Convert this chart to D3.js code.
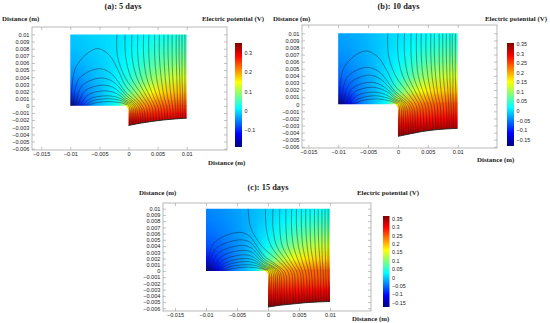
<!DOCTYPE html>
<html><head><meta charset="utf-8">
<script src="https://cdn.jsdelivr.net/npm/d3@7"></script>
<style>
body{margin:0;background:#fff}
svg{display:block}
</style></head><body>
<div id="chart"></div>
<script>
// shared axes
const xTicks = [-0.015,-0.01,-0.005,0,0.005,0.01];
const yTicks = [0.01,0.009,0.008,0.007,0.006,0.005,0.004,0.003,0.002,0.001,0,-0.001,-0.002,-0.003,-0.004,-0.005,-0.006];
const xNodes = [-0.01,-0.008,-0.006,-0.004,-0.002,0,0.002,0.004,0.006,0.008,0.01];
const yUpper = [0.01,0.008,0.006,0.004,0.002,0];
const xLower = [0,0.002,0.004,0.006,0.008,0.01];
const cmapStops = [0,0.125,0.375,0.625,0.875,1];
const cmapColors = ["#000080","#0000ff","#00ffff","#ffff00","#ff0000","#800000"];

// (a) 5 days
const rangeA = [-0.189,0.354];
const cbTicksA = [-0.1,0,0.1,0.2,0.3];
const yLowerA = [0,-0.001,-0.002,-0.003];
const upperA = [
 [-0.015,-0.012,-0.008,-0.004,0.000,0.005,0.010,0.016,0.022,0.028,0.032],
 [-0.020,-0.016,-0.011,-0.005,0.002,0.010,0.020,0.032,0.042,0.050,0.055],
 [-0.030,-0.024,-0.016,-0.007,0.004,0.018,0.036,0.055,0.070,0.082,0.088],
 [-0.048,-0.038,-0.024,-0.010,0.008,0.032,0.062,0.090,0.110,0.125,0.132],
 [-0.085,-0.058,-0.034,-0.012,0.014,0.062,0.112,0.150,0.172,0.182,0.188],
 [-0.190,-0.100,-0.040,-0.005,0.025,0.150,0.205,0.225,0.238,0.246,0.252]
];
const lowerA = [
 [0.150,0.205,0.225,0.238,0.246,0.252],
 [0.245,0.258,0.266,0.272,0.277,0.282],
 [0.305,0.308,0.310,0.312,0.315,0.318],
 [0.345,0.345,0.345,0.345,0.345,0.345]
];
const bottomA = [[0,-0.00275],[0.002,-0.00243],[0.004,-0.00218],[0.006,-0.00198],[0.008,-0.00183],[0.01,-0.00172]];
const arcsA = [
 [[-0.0098,0],[-0.0090,0.0055],[-0.0055,0.0080],[-0.0033,0.0071],[-0.0018,0.0050],[-0.0005,0.0028],[0.0013,0.0011],[0.0026,-0.0003],[0.0029,-0.003]],
 [[-0.0095,0],[-0.0085,0.0038],[-0.0051,0.0052],[-0.0031,0.0046],[-0.0017,0.0033],[-0.0005,0.0019],[0.0011,0.0008],[0.0022,-0.0003],[0.0025,-0.003]],
 [[-0.0091,0],[-0.0080,0.0028],[-0.0048,0.0039],[-0.0029,0.0035],[-0.0016,0.0026],[-0.0005,0.0015],[0.0009,0.0006],[0.0018,-0.0003],[0.0021,-0.003]],
 [[-0.0087,0],[-0.0075,0.0021],[-0.0045,0.0029],[-0.0027,0.0026],[-0.0015,0.0019],[-0.0005,0.0011],[0.0007,0.0005],[0.0014,-0.0003],[0.0017,-0.003]],
 [[-0.0083,0],[-0.0070,0.0015],[-0.0043,0.0021],[-0.0026,0.0019],[-0.0014,0.0014],[-0.0005,0.0008],[0.0005,0.0004],[0.0011,-0.0003],[0.0013,-0.003]],
 [[-0.0079,0],[-0.0066,0.0010],[-0.0040,0.0014],[-0.0024,0.0013],[-0.0013,0.0010],[-0.0005,0.0006],[0.0003,0.0003],[0.0008,-0.0003],[0.0009,-0.003]],
 [[-0.0075,0],[-0.0062,0.0007],[-0.0037,0.0010],[-0.0022,0.0009],[-0.0012,0.0007],[-0.0005,0.0004],[0.0001,0.0002],[0.0005,-0.0003],[0.0006,-0.003]],
 [[-0.0071,0],[-0.0058,0.0004],[-0.0034,0.0006],[-0.0020,0.0005],[-0.0011,0.0004],[-0.0005,0.0002],[-0.0001,0.0001],[0.0002,-0.0003],[0.0002,-0.003]]
];
const fanYA = [0.01,0.007,0.004,0.0013,-0.0003,-0.003];
const fansA = [
 [-0.0020,-0.0019,-0.0006,0.0018,0.0031,0.0033],
 [-0.0006,-0.0005,0.0004,0.0025,0.0036,0.0038],
 [0.0006,0.0006,0.0014,0.0031,0.0041,0.0043],
 [0.0016,0.0016,0.0022,0.0037,0.0046,0.0048],
 [0.0026,0.0026,0.0031,0.0043,0.0051,0.0053],
 [0.0035,0.0035,0.0039,0.0049,0.0056,0.0058],
 [0.0045,0.0045,0.0048,0.0055,0.0061,0.0063],
 [0.0053,0.0053,0.0056,0.0061,0.0066,0.0067],
 [0.0061,0.0061,0.0063,0.0067,0.0071,0.0072],
 [0.0068,0.0068,0.0070,0.0073,0.0076,0.0077],
 [0.0075,0.0075,0.0076,0.0079,0.0081,0.0082],
 [0.0082,0.0082,0.0083,0.0084,0.0085,0.0086],
 [0.0087,0.0087,0.0088,0.0089,0.0089,0.0090],
 [0.0092,0.0092,0.0092,0.0093,0.0093,0.0093],
 [0.0097,0.0097,0.0097,0.0097,0.0097,0.0097]
];

// (b) 10 days
const rangeB = [-0.183,0.357];
const cbTicksB = [-0.15,-0.1,-0.05,0,0.05,0.1,0.15,0.2,0.25,0.3,0.35];
const yLowerB = [0,-0.001,-0.002,-0.003,-0.004,-0.005];
const upperB = [
 [-0.030,-0.026,-0.020,-0.013,-0.005,0.003,0.010,0.016,0.022,0.027,0.030],
 [-0.035,-0.030,-0.023,-0.014,-0.003,0.008,0.020,0.032,0.042,0.050,0.054],
 [-0.045,-0.038,-0.028,-0.016,0.000,0.017,0.036,0.056,0.072,0.083,0.088],
 [-0.062,-0.050,-0.035,-0.018,0.004,0.032,0.064,0.094,0.114,0.126,0.132],
 [-0.095,-0.070,-0.042,-0.018,0.010,0.064,0.116,0.152,0.172,0.182,0.187],
 [-0.183,-0.110,-0.050,-0.012,0.022,0.160,0.208,0.226,0.238,0.245,0.250]
];
const lowerB = [
 [0.160,0.208,0.226,0.238,0.245,0.250],
 [0.228,0.243,0.253,0.260,0.265,0.268],
 [0.268,0.274,0.280,0.285,0.289,0.292],
 [0.300,0.305,0.309,0.313,0.316,0.318],
 [0.330,0.334,0.338,0.341,0.344,0.346],
 [0.355,0.355,0.355,0.355,0.355,0.355]
];
const bottomB = [[0,-0.00453],[0.002,-0.00418],[0.004,-0.00385],[0.006,-0.00362],[0.008,-0.00348],[0.01,-0.0034]];
const arcsB = [
 [[-0.0098,0],[-0.0090,0.0052],[-0.0056,0.0075],[-0.0034,0.0067],[-0.0019,0.0048],[-0.0006,0.0027],[0.0012,0.0011],[0.0026,-0.0003],[0.0029,-0.0025],[0.0030,-0.0048]],
 [[-0.0095,0],[-0.0085,0.0038],[-0.0053,0.0052],[-0.0032,0.0046],[-0.0018,0.0033],[-0.0006,0.0019],[0.0010,0.0008],[0.0022,-0.0003],[0.0025,-0.0025],[0.0026,-0.0048]],
 [[-0.0092,0],[-0.0081,0.0029],[-0.0050,0.0041],[-0.0030,0.0036],[-0.0017,0.0026],[-0.0005,0.0015],[0.0008,0.0006],[0.0018,-0.0003],[0.0021,-0.0025],[0.0022,-0.0048]],
 [[-0.0088,0],[-0.0077,0.0022],[-0.0047,0.0031],[-0.0028,0.0027],[-0.0015,0.0019],[-0.0005,0.0011],[0.0007,0.0005],[0.0014,-0.0003],[0.0017,-0.0025],[0.0018,-0.0048]],
 [[-0.0085,0],[-0.0073,0.0017],[-0.0045,0.0024],[-0.0027,0.0021],[-0.0014,0.0015],[-0.0005,0.0008],[0.0005,0.0004],[0.0011,-0.0003],[0.0013,-0.0025],[0.0014,-0.0048]],
 [[-0.0081,0],[-0.0069,0.0012],[-0.0042,0.0017],[-0.0025,0.0015],[-0.0013,0.0010],[-0.0005,0.0006],[0.0003,0.0003],[0.0008,-0.0003],[0.0009,-0.0025],[0.0010,-0.0048]],
 [[-0.0077,0],[-0.0065,0.0008],[-0.0039,0.0012],[-0.0023,0.0010],[-0.0012,0.0007],[-0.0005,0.0004],[0.0001,0.0002],[0.0005,-0.0003],[0.0006,-0.0025],[0.0006,-0.0048]],
 [[-0.0073,0],[-0.0061,0.0005],[-0.0036,0.00075],[-0.0021,0.0006],[-0.0011,0.0004],[-0.0005,0.0002],[-0.0001,0.0001],[0.0002,-0.0003],[0.0002,-0.0025],[0.0002,-0.0048]]
];
const fanYB = [0.01,0.007,0.004,0.0013,-0.0003,-0.0025,-0.0048];
const fansB = [
 [-0.0017,-0.0016,-0.0004,0.0019,0.0031,0.0033,0.0034],
 [0.0000,0.0000,0.0008,0.0026,0.0036,0.0038,0.0039],
 [0.0011,0.0011,0.0017,0.0032,0.0041,0.0043,0.0044],
 [0.0022,0.0022,0.0026,0.0038,0.0046,0.0048,0.0049],
 [0.0031,0.0031,0.0034,0.0044,0.0051,0.0053,0.0054],
 [0.0039,0.0039,0.0042,0.0050,0.0056,0.0058,0.0059],
 [0.0047,0.0047,0.0050,0.0056,0.0061,0.0063,0.0064],
 [0.0055,0.0055,0.0057,0.0062,0.0066,0.0067,0.0068],
 [0.0061,0.0061,0.0063,0.0067,0.0071,0.0072,0.0073],
 [0.0069,0.0069,0.0070,0.0073,0.0076,0.0077,0.0078],
 [0.0075,0.0075,0.0076,0.0079,0.0081,0.0082,0.0082],
 [0.0081,0.0081,0.0082,0.0084,0.0085,0.0086,0.0086],
 [0.0087,0.0087,0.0087,0.0088,0.0089,0.0090,0.0090],
 [0.0091,0.0091,0.0092,0.0092,0.0093,0.0093,0.0093],
 [0.0096,0.0096,0.0096,0.0097,0.0097,0.0097,0.0097]
];

// (c) 15 days
const rangeC = [-0.174,0.368];
const cbTicksC = [-0.15,-0.1,-0.05,0,0.05,0.1,0.15,0.2,0.25,0.3,0.35];
const yLowerC = [0,-0.001,-0.002,-0.003,-0.004,-0.005,-0.006];
const upperC = [
 [-0.035,-0.030,-0.024,-0.016,-0.006,0.004,0.012,0.019,0.025,0.030,0.034],
 [-0.040,-0.034,-0.027,-0.017,-0.004,0.010,0.024,0.037,0.048,0.056,0.060],
 [-0.050,-0.042,-0.031,-0.018,0.000,0.020,0.042,0.063,0.080,0.092,0.097],
 [-0.066,-0.054,-0.038,-0.020,0.004,0.036,0.072,0.102,0.122,0.134,0.140],
 [-0.100,-0.075,-0.045,-0.020,0.010,0.068,0.122,0.158,0.176,0.186,0.190],
 [-0.174,-0.112,-0.052,-0.014,0.022,0.165,0.212,0.228,0.240,0.247,0.252]
];
const lowerC = [
 [0.165,0.212,0.228,0.240,0.247,0.252],
 [0.225,0.236,0.244,0.250,0.255,0.258],
 [0.256,0.261,0.266,0.270,0.273,0.276],
 [0.282,0.286,0.290,0.293,0.296,0.299],
 [0.310,0.313,0.316,0.318,0.321,0.323],
 [0.340,0.342,0.344,0.346,0.348,0.350],
 [0.365,0.365,0.365,0.365,0.365,0.365]
];
const bottomC = [[0,-0.0058],[0.002,-0.0055],[0.004,-0.0053],[0.006,-0.0051],[0.008,-0.00498],[0.01,-0.0049]];
const arcsC = [
 [[-0.0098,0],[-0.0088,0.0044],[-0.0048,0.0062],[-0.0031,0.0057],[-0.0019,0.0042],[-0.0007,0.0025],[0.0012,0.0011],[0.0028,-0.0003],[0.0030,-0.003],[0.0031,-0.0062]],
 [[-0.0096,0],[-0.0085,0.0035],[-0.0046,0.0050],[-0.0029,0.0046],[-0.0018,0.0034],[-0.0006,0.0019],[0.0011,0.0009],[0.0024,-0.0003],[0.0026,-0.003],[0.0027,-0.0062]],
 [[-0.0093,0],[-0.0081,0.0028],[-0.0044,0.0041],[-0.0027,0.0037],[-0.0017,0.0027],[-0.0006,0.0015],[0.0009,0.0007],[0.0020,-0.0003],[0.0022,-0.003],[0.0023,-0.0062]],
 [[-0.0090,0],[-0.0077,0.0022],[-0.0042,0.0033],[-0.0026,0.0030],[-0.0016,0.0021],[-0.0005,0.0012],[0.0008,0.0006],[0.0017,-0.0003],[0.0019,-0.003],[0.0020,-0.0062]],
 [[-0.0087,0],[-0.0073,0.0017],[-0.0040,0.0026],[-0.0025,0.0023],[-0.0015,0.0016],[-0.0005,0.0009],[0.0006,0.0005],[0.0014,-0.0003],[0.0015,-0.003],[0.0016,-0.0062]],
 [[-0.0083,0],[-0.0069,0.0013],[-0.0038,0.0020],[-0.0024,0.0018],[-0.0014,0.0012],[-0.0005,0.0007],[0.0004,0.0004],[0.0011,-0.0003],[0.0012,-0.003],[0.0012,-0.0062]],
 [[-0.0079,0],[-0.0065,0.0010],[-0.0036,0.0015],[-0.0022,0.0013],[-0.0013,0.0009],[-0.0005,0.0005],[0.0002,0.0003],[0.0008,-0.0003],[0.0009,-0.003],[0.0009,-0.0062]],
 [[-0.0075,0],[-0.0061,0.0007],[-0.0034,0.0010],[-0.0021,0.0009],[-0.0012,0.0006],[-0.0005,0.0003],[0.0000,0.0002],[0.0005,-0.0003],[0.0005,-0.003],[0.0005,-0.0062]],
 [[-0.0071,0],[-0.0057,0.0004],[-0.0032,0.0006],[-0.0019,0.0005],[-0.0011,0.0004],[-0.0005,0.0002],[-0.0001,0.0001],[0.0002,-0.0003],[0.0002,-0.003],[0.0002,-0.0062]]
];
const fanYC = [0.01,0.007,0.004,0.0013,-0.0003,-0.003,-0.0062];
const fansC = [
 [-0.0032,-0.0028,-0.0010,0.0020,0.0033,0.0035,0.0036],
 [-0.0004,-0.0003,0.0005,0.0026,0.0038,0.0040,0.0041],
 [0.0008,0.0008,0.0014,0.0032,0.0042,0.0044,0.0045],
 [0.0019,0.0019,0.0023,0.0038,0.0047,0.0049,0.0050],
 [0.0029,0.0029,0.0032,0.0044,0.0052,0.0054,0.0055],
 [0.0038,0.0038,0.0041,0.0050,0.0056,0.0058,0.0059],
 [0.0046,0.0046,0.0049,0.0056,0.0061,0.0063,0.0063],
 [0.0054,0.0054,0.0056,0.0062,0.0066,0.0067,0.0068],
 [0.0061,0.0061,0.0063,0.0067,0.0070,0.0072,0.0072],
 [0.0068,0.0068,0.0069,0.0073,0.0075,0.0076,0.0077],
 [0.0075,0.0075,0.0076,0.0078,0.0080,0.0081,0.0081],
 [0.0081,0.0081,0.0082,0.0084,0.0085,0.0085,0.0086],
 [0.0087,0.0087,0.0087,0.0088,0.0089,0.0090,0.0090],
 [0.0092,0.0092,0.0092,0.0093,0.0093,0.0094,0.0094],
 [0.0097,0.0097,0.0097,0.0097,0.0097,0.0098,0.0098]
];

const panels = [
  {id:"a", title:"(a): 5 days", range:rangeA, cbTicks:cbTicksA, upper:upperA, lower:lowerA, yLower:yLowerA,
   bottom:bottomA, arcs:arcsA, fans:fansA, fanY:fanYA,
   frame:{l:32,t:27,r:227,b:150}, xr:[41.2,186.7], yr:[34.4,148.7], cb:{x:235,w:7,t:43,b:147},
   tt:[123,8.5], yt:[2,21], ct:[202,21], xt:[208,164.5]},
  {id:"b", title:"(b): 10 days", range:rangeB, cbTicks:cbTicksB, upper:upperB, lower:lowerB, yLower:yLowerB,
   bottom:bottomB, arcs:arcsB, fans:fansB, fanY:fanYB,
   frame:{l:302,t:25,r:497,b:148}, xr:[308.3,457.7], yr:[33.3,146.8], cb:{x:507,w:7,t:43,b:146},
   tt:[398.5,8.5], yt:[273,21], ct:[485,21], xt:[477,162]},
  {id:"c", title:"(c): 15 days", range:rangeC, cbTicks:cbTicksC, upper:upperC, lower:lowerC, yLower:yLowerC,
   bottom:bottomC, arcs:arcsC, fans:fansC, fanY:fanYC,
   frame:{l:163,t:203,r:371,b:311}, xr:[175,330], yr:[208.7,308.3], cb:{x:383,w:6.5,t:216,b:307},
   tt:[268,190], yt:[139,195], ct:[357,195], xt:[352,320.5]}
];

const svg = d3.select("#chart").append("svg").attr("width",550).attr("height",323);
const defs = svg.append("defs");
const fmt = d3.format("~g");
const serif = "'Liberation Serif','Times New Roman',serif";
const sans = "'Liberation Sans',Arial,sans-serif";

function fieldImage(g, grid, xn, yn, color, xs, ys, clip){
  const nx = xn.length, ny = yn.length;
  const cv = document.createElement("canvas");
  cv.width = nx; cv.height = ny;
  const ctx = cv.getContext("2d");
  const img = ctx.createImageData(nx, ny);
  grid.forEach((row,j) => row.forEach((v,i) => {
    const c = d3.rgb(color(v)), k = 4*(j*nx+i);
    img.data[k]=c.r; img.data[k+1]=c.g; img.data[k+2]=c.b; img.data[k+3]=255;
  }));
  ctx.putImageData(img,0,0);
  const dx = xn[1]-xn[0], dy = yn[0]-yn[1];
  const x0 = xs(xn[0]-dx/2), x1 = xs(xn[nx-1]+dx/2);
  const y0 = ys(yn[0]+dy/2), y1 = ys(yn[ny-1]-dy/2);
  g.append("image").attr("href", cv.toDataURL())
    .attr("x",x0).attr("y",y0).attr("width",x1-x0).attr("height",y1-y0)
    .attr("preserveAspectRatio","none")
    .attr("clip-path",`url(#${clip})`);
}

function drawPanel(p){
  const xs = d3.scaleLinear().domain([-0.015,0.01]).range(p.xr);
  const ys = d3.scaleLinear().domain([0.01,-0.006]).range(p.yr);
  const lo = p.range[0], hi = p.range[1];
  const color = d3.scaleLinear().domain(cmapStops.map(t => lo + t*(hi-lo))).range(cmapColors).clamp(true);
  const g = svg.append("g");
  const f = p.frame;

  // outlines (lower clip overlaps the upper one slightly so no seam shows at y = 0)
  const lowerPoly = [[0,0.00012],[0.01,0.00012]].concat(p.bottom.slice().reverse()).concat([[0,-0.0005],[-0.0004,0],[-0.0004,0.00012]]);
  const domainPoly = [[-0.01,0.01],[0.01,0.01]].concat(p.bottom.slice().reverse()).concat([[0,-0.0005],[-0.0004,0],[-0.01,0]]);
  const poly = d3.line().x(d => xs(d[0])).y(d => ys(d[1]));

  defs.append("clipPath").attr("id","up"+p.id).append("rect")
    .attr("x",xs(-0.01)).attr("y",ys(0.01)).attr("width",xs(0.01)-xs(-0.01)).attr("height",ys(0)-ys(0.01));
  defs.append("clipPath").attr("id","lo"+p.id).append("path").attr("d",poly(lowerPoly)+"Z");
  defs.append("clipPath").attr("id","dom"+p.id).append("path").attr("d",poly(domainPoly)+"Z");

  // frame
  g.append("rect").attr("x",f.l).attr("y",f.t).attr("width",f.r-f.l).attr("height",f.b-f.t)
    .attr("fill","none").attr("stroke","#a8a8a8").attr("stroke-width",0.8);

  // field
  fieldImage(g, p.upper, xNodes, yUpper, color, xs, ys, "up"+p.id);
  fieldImage(g, p.lower, xLower, p.yLower, color, xs, ys, "lo"+p.id);

  // streamlines
  const line = d3.line().x(d => xs(d[0])).y(d => ys(d[1])).curve(d3.curveCatmullRom.alpha(0.5));
  const fanPts = p.fans.map(r => r.map((x,i) => [x, p.fanY[i]]));
  g.append("g").attr("clip-path",`url(#dom${p.id})`)
    .selectAll("path").data(p.arcs.concat(fanPts)).join("path")
    .attr("d",line).attr("fill","none").attr("stroke","#1e1e1e").attr("stroke-width",0.55).attr("stroke-opacity",0.8);

  g.append("path").attr("d",poly(p.bottom)).attr("fill","none").attr("stroke","#222").attr("stroke-width",0.9);

  // axes
  const style = a => { a.select(".domain").remove();
    a.selectAll("line").attr("stroke","#a8a8a8").attr("stroke-width",0.7);
    a.attr("font-family",sans).attr("font-size",5.6);
    a.selectAll("text").attr("fill","#222"); };
  g.append("g").attr("transform",`translate(${f.l},0)`)
    .call(d3.axisLeft(ys).tickValues(yTicks).tickSize(-3).tickPadding(2.6).tickFormat(fmt)).call(style);
  g.append("g").attr("transform",`translate(${f.r},0)`)
    .call(d3.axisRight(ys).tickValues(yTicks).tickSize(-3).tickFormat("")).call(style);
  g.append("g").attr("transform",`translate(0,${f.t})`)
    .call(d3.axisTop(xs).tickValues(xTicks).tickSize(-3).tickFormat("")).call(style);
  g.append("g").attr("transform",`translate(0,${f.b})`)
    .call(d3.axisBottom(xs).tickValues(xTicks).tickSize(-3).tickPadding(2.4).tickFormat(fmt)).call(style);

  // colour bar
  const grad = defs.append("linearGradient").attr("id","cb"+p.id)
    .attr("x1",0).attr("y1",1).attr("x2",0).attr("y2",0);
  grad.selectAll("stop").data(cmapStops).join("stop")
    .attr("offset",d => d).attr("stop-color",(d,i) => cmapColors[i]);
  const cb = p.cb;
  g.append("rect").attr("x",cb.x).attr("y",cb.t).attr("width",cb.w).attr("height",cb.b-cb.t)
    .attr("fill",`url(#cb${p.id})`);
  const cs = d3.scaleLinear().domain(p.range).range([cb.b,cb.t]);
  g.append("g").selectAll("text").data(p.cbTicks).join("text")
    .attr("x",cb.x+cb.w+2.5).attr("y",d => cs(d)).attr("dy","0.35em")
    .attr("font-family",sans).attr("font-size",5.4).attr("fill","#222").text(fmt);

  // labels
  g.append("text").attr("x",p.tt[0]).attr("y",p.tt[1]).attr("text-anchor","middle")
    .attr("font-family",serif).attr("font-weight","bold").attr("font-size",8.4).attr("fill","#222").text(p.title);
  [[p.yt,"Distance (m)"],[p.ct,"Electric potential (V)"],[p.xt,"Distance (m)"]].forEach(([pos,t]) =>
    g.append("text").attr("x",pos[0]).attr("y",pos[1])
      .attr("font-family",serif).attr("font-weight","bold").attr("font-size",6.9).attr("fill","#222").text(t));
}

panels.forEach(drawPanel);
</script></body></html>
